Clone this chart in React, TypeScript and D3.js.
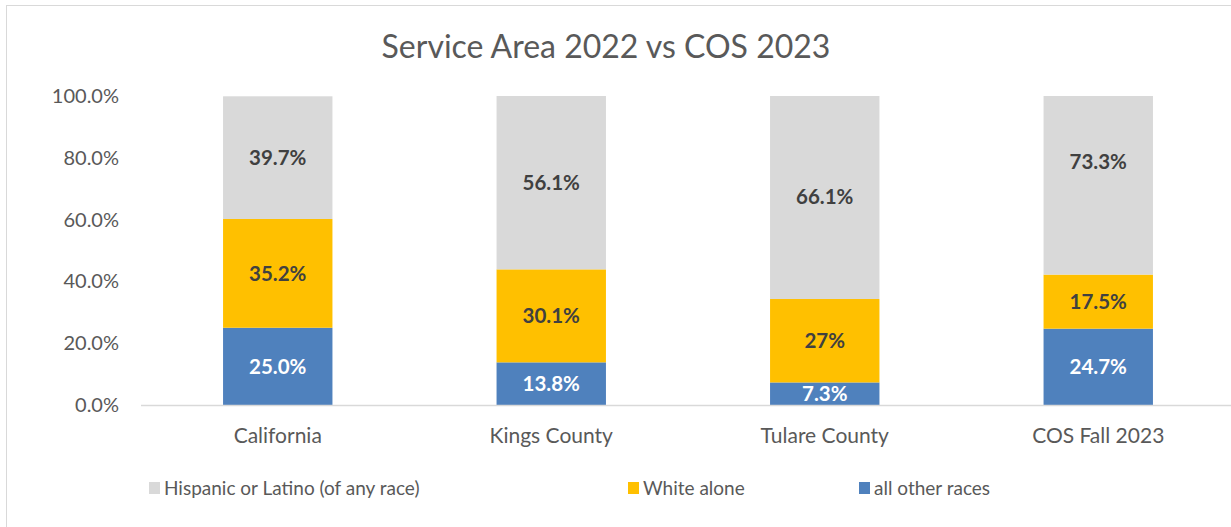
import React from "react";
import * as d3 from "d3";

const categories = ["California", "Kings County", "Tulare County", "COS Fall 2023"];
const otherRaces = [25.0, 13.8, 7.3, 24.7];
const whiteAlone = [35.2, 30.1, 27, 17.5];
const hispanic = [39.7, 56.1, 66.1, 73.3];
const otherLabels = ["25.0%", "13.8%", "7.3%", "24.7%"];
const whiteLabels = ["35.2%", "30.1%", "27%", "17.5%"];
const hispanicLabels = ["39.7%", "56.1%", "66.1%", "73.3%"];
const yTicks = [0, 20, 40, 60, 80, 100];
const seriesNames = ["Hispanic or Latino (of any race)", "White alone", "all other races"];
const colors = { hispanic: "#D9D9D9", white: "#FFC000", other: "#4F81BD" };

const W = 1231;
const H = 527;
const FONT = "Lato, 'Open Sans', sans-serif";

export default function App() {
  const left = 141;
  const right = 1235;
  const top = 96;
  const bottom = 405;
  const x = d3.scaleBand<string>().domain(categories).range([left, right]).paddingInner(0.6).paddingOuter(0.3);
  const y = d3.scaleLinear().domain([0, 100]).range([bottom, top]);

  const series = [
    { key: "other", values: otherRaces, labels: otherLabels, color: colors.other, text: "#FFFFFF" },
    { key: "white", values: whiteAlone, labels: whiteLabels, color: colors.white, text: "#404040" },
    { key: "hispanic", values: hispanic, labels: hispanicLabels, color: colors.hispanic, text: "#404040" },
  ];

  const stacks = categories.map((c, i) => {
    let base = 0;
    return series.map((s) => {
      const y0 = base;
      const y1 = base + s.values[i];
      base = y1;
      return { cat: c, y0, y1, s, label: s.labels[i] };
    });
  });

  const legendItems = [
    { name: seriesNames[0], color: colors.hispanic, x: 149 },
    { name: seriesNames[1], color: colors.white, x: 628 },
    { name: seriesNames[2], color: colors.other, x: 859 },
  ];

  return (
    <svg width={W} height={H} style={{ position: "absolute", left: 0, top: 0 }}>
      <rect x={0} y={0} width={W} height={H} fill="#fff" />
      <rect x={6.5} y={5.5} width={W + 10} height={H + 10} fill="#fff" stroke="#D9D9D9" strokeWidth={1} />
      <defs>
        <clipPath id="plotclip">
          <rect x={left} y={top} width={right - left} height={bottom - top} />
        </clipPath>
      </defs>
      <text x={606} y={47} dy="0.35em" textAnchor="middle" fontFamily={FONT} fontSize={32} fill="#595959">
        Service Area 2022 vs COS 2023
      </text>
      {yTicks.map((t) => (
        <text key={t} x={119} y={y(t)} dy="0.35em" textAnchor="end" fontFamily={FONT} fontSize={20} fill="#595959">
          {t.toFixed(1)}%
        </text>
      ))}
      <g clipPath="url(#plotclip)">
        {stacks.flat().map((d, i) => (
          <rect
            key={i}
            x={x(d.cat)}
            y={y(d.y1)}
            width={x.bandwidth()}
            height={y(d.y0) - y(d.y1)}
            fill={d.s.color}
          />
        ))}
      </g>
      <line x1={left} x2={right} y1={bottom + 0.5} y2={bottom + 0.5} stroke="#D9D9D9" strokeWidth={1.5} />
      {stacks.flat().map((d, i) => (
        <text
          key={"l" + i}
          x={(x(d.cat) as number) + x.bandwidth() / 2}
          y={y((d.y0 + d.y1) / 2)}
          dy="0.36em"
          textAnchor="middle"
          fontFamily={FONT}
          fontWeight={700}
          fontSize={20.5}
          fill={d.s.text}
        >
          {d.label}
        </text>
      ))}
      {categories.map((c) => (
        <text
          key={c}
          x={(x(c) as number) + x.bandwidth() / 2}
          y={436}
          dy="0.35em"
          textAnchor="middle"
          fontFamily={FONT}
          fontSize={21}
          fill="#595959"
        >
          {c}
        </text>
      ))}
      {legendItems.map((l) => (
        <g key={l.name}>
          <rect x={l.x} y={482} width={11} height={12} fill={l.color} />
          <text x={l.x + 15} y={488} dy="0.35em" fontFamily={FONT} fontSize={19} fill="#595959">
            {l.name}
          </text>
        </g>
      ))}
    </svg>
  );
}
